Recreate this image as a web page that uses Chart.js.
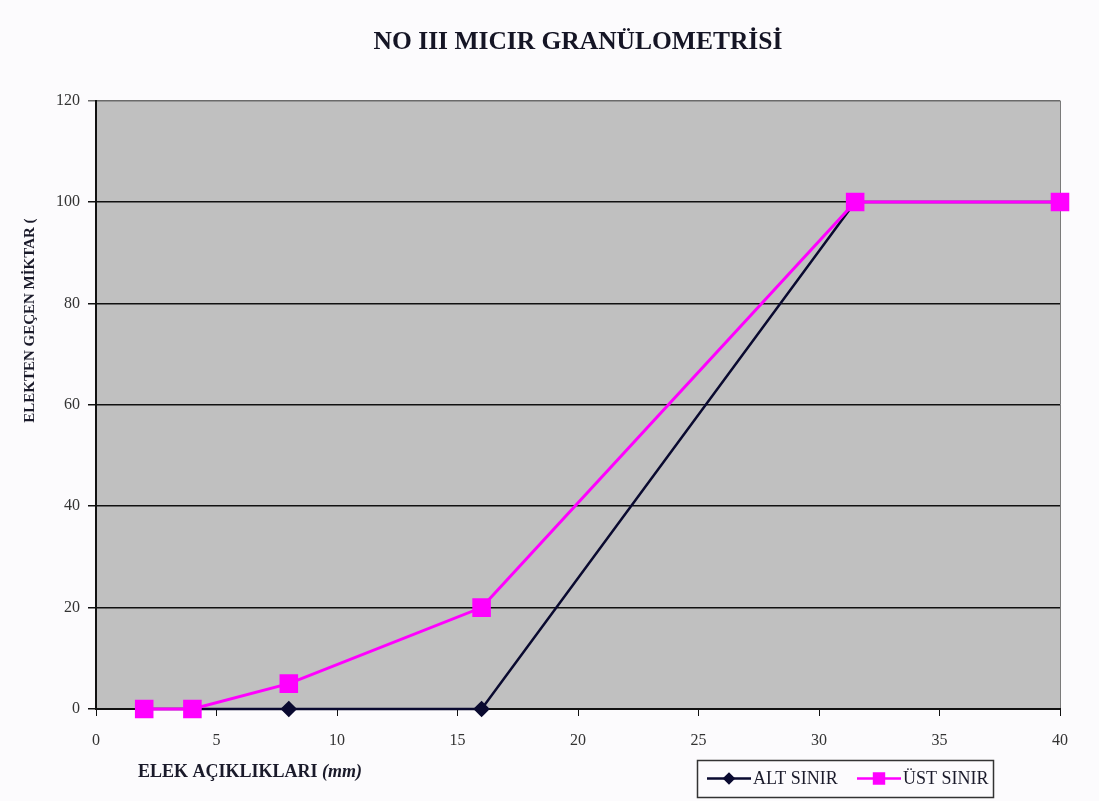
<!DOCTYPE html>
<html>
<head>
<meta charset="utf-8">
<script src="https://cdn.jsdelivr.net/npm/chart.js@4.4.1/dist/chart.umd.min.js"></script>
<style>
    html, body { margin: 0; padding: 0; background: #fcfbfd; }
    #wrap { width: 1099px; height: 801px; }
</style>
</head>
<body>
<div id="wrap"><canvas id="granChart" width="1099" height="801"></canvas></div>
<script>
// Elek açıklıkları (mm) ve sınır değerleri (%)
const sieveSizes = [2, 4, 8, 16, 31.5, 40];
const altSinir = [0, 0, 0, 0, 100, 100];
const ustSinir = [0, 0, 5, 20, 100, 100];
const seriesLabels = ['ALT SINIR', 'ÜST SINIR'];
const chartTitle = 'NO III MICIR GRANÜLOMETRİSİ';
const yTitle = 'ELEKTEN GEÇEN MİKTAR (';
const xTitle = 'ELEK AÇIKLIKLARI ';
const xTitleUnit = '(mm)';
const xRange = [0, 40, 5];
const yRange = [0, 120, 20];

const SERIF = '"Liberation Serif", "DejaVu Serif", serif';

function toPoints(values) {
    return sieveSizes.map((x, i) => ({ x: x, y: values[i] }));
}

// Background, plot frame, axis titles and legend box
const chartDecor = {
    id: 'chartDecor',
    beforeDraw(chart) {
        const { ctx, chartArea: a } = chart;
        ctx.save();
        ctx.fillStyle = '#fcfbfd';
        ctx.fillRect(0, 0, chart.width, chart.height);
        ctx.fillStyle = '#c0c0c0';
        ctx.fillRect(a.left, a.top, a.right - a.left, a.bottom - a.top);
        // right edge of plot
        ctx.strokeStyle = '#7a7a7a';
        ctx.lineWidth = 1;
        ctx.beginPath();
        ctx.moveTo(a.right + 0.5, a.top);
        ctx.lineTo(a.right + 0.5, a.bottom);
        ctx.stroke();
        ctx.restore();
    },
    afterDraw(chart) {
        const { ctx, chartArea: a } = chart;
        ctx.save();
        ctx.fillStyle = '#1a1a2a';
        ctx.textBaseline = 'middle';

        // y axis title
        ctx.save();
        ctx.translate(a.left - 66, a.top + 220);
        ctx.rotate(-Math.PI / 2);
        ctx.font = 'bold 15px ' + SERIF;
        ctx.textAlign = 'center';
        ctx.fillText(yTitle, 0, 0);
        ctx.restore();

        // x axis title
        ctx.textAlign = 'left';
        ctx.font = 'bold 18px ' + SERIF;
        const tx = a.left + 42, ty = a.bottom + 63;
        ctx.fillText(xTitle, tx, ty);
        const w = ctx.measureText(xTitle).width;
        ctx.font = 'italic bold 18px ' + SERIF;
        ctx.fillText(xTitleUnit, tx + w, ty);

        // legend
        const bx = a.right - 363, by = a.bottom + 51, bw = 296, bh = 37;
        ctx.strokeStyle = '#333';
        ctx.lineWidth = 1.5;
        ctx.strokeRect(bx + 0.5, by + 0.5, bw, bh);
        const cy = by + bh / 2;
        const itemX = [bx + 10, bx + 160];
        chart.data.datasets.forEach((ds, i) => {
            const x0 = itemX[i];
            ctx.strokeStyle = ds.borderColor;
            ctx.lineWidth = 2.5;
            ctx.beginPath();
            ctx.moveTo(x0, cy);
            ctx.lineTo(x0 + 44, cy);
            ctx.stroke();
            ctx.fillStyle = ds.pointBackgroundColor;
            ctx.strokeStyle = ds.pointBorderColor;
            Chart.helpers.drawPoint(ctx, {
                pointStyle: ds.pointStyle,
                radius: ds.legendRadius,
                rotation: 0,
                borderWidth: 1
            }, x0 + 22, cy);
            ctx.fillStyle = '#1a1a2a';
            ctx.font = '18px ' + SERIF;
            ctx.textAlign = 'left';
            ctx.fillText(ds.label, x0 + 46, cy + 1);
        });

        ctx.restore();
    }
};

new Chart(document.getElementById('granChart'), {
    type: 'scatter',
    data: {
        datasets: [{
            label: seriesLabels[0],
            data: toPoints(altSinir),
            showLine: true,
            clip: false,
            borderColor: '#0a0a30',
            borderWidth: 2.5,
            pointStyle: 'rectRot',
            pointRadius: 6.5,
            pointBackgroundColor: '#0a0a30',
            pointBorderColor: '#0a0a30',
            legendRadius: 4.5,
            order: 2
        }, {
            label: seriesLabels[1],
            data: toPoints(ustSinir),
            showLine: true,
            clip: false,
            borderColor: '#ff00ff',
            borderWidth: 3,
            pointStyle: 'rect',
            pointRadius: 11,
            pointBackgroundColor: '#ff00ff',
            pointBorderColor: '#ff00ff',
            legendRadius: 7,
            order: 1
        }]
    },
    options: {
        responsive: false,
        animation: false,
        layout: { padding: { left: 0, right: 39, top: 0, bottom: 0 } },
        plugins: {
            legend: { display: false },
            tooltip: { enabled: false },
            title: {
                display: true,
                text: chartTitle,
                fullSize: false,
                color: '#151525',
                font: { family: SERIF, size: 25.5, weight: 'bold', lineHeight: 1.2 },
                padding: { top: 27, bottom: 43 }
            }
        },
        scales: {
            x: {
                type: 'linear',
                min: xRange[0],
                max: xRange[1],
                ticks: {
                    stepSize: xRange[2],
                    color: '#333',
                    font: { family: SERIF, size: 16 },
                    padding: 15,
                    maxRotation: 0
                },
                grid: {
                    drawOnChartArea: false,
                    drawTicks: true,
                    tickLength: 7,
                    color: '#111'
                },
                border: { color: '#111', width: 2 },
                afterFit(scale) { scale.height = 92; }
            },
            y: {
                min: yRange[0],
                max: yRange[1],
                ticks: {
                    stepSize: yRange[2],
                    color: '#333',
                    font: { family: SERIF, size: 16 },
                    padding: 8
                },
                grid: {
                    color: ctx => ctx.tick && ctx.tick.value === yRange[1] ? '#6a6a6a' : '#111',
                    lineWidth: 1.5,
                    tickLength: 8
                },
                border: { color: '#111', width: 2 },
                afterFit(scale) { scale.width = 96; }
            }
        }
    },
    plugins: [chartDecor]
});
</script>
</body>
</html>
